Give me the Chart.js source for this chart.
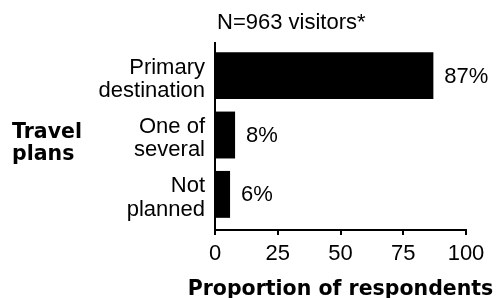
<!DOCTYPE html>
<html>
<head>
<meta charset="utf-8">
<script src="https://cdn.jsdelivr.net/npm/chart.js@4/dist/chart.umd.min.js"></script>
<style>
  body { margin: 0; background: #fff; }
  canvas { display: block; }
</style>
</head>
<body>
<canvas id="myChart" width="500" height="298"></canvas>
<script>
// data
const categories = [['Primary', 'destination'], ['One of', 'several'], ['Not', 'planned']];
const shares = [87, 8, 6];
const xTicks = [0, 25, 50, 75, 100];
const sampleNote = 'N=963 visitors*';
const yTitle = ['Travel', 'plans'];
const xTitle = 'Proportion of respondents';

const plainFont = { family: '"Liberation Sans", Arial, sans-serif', size: 22, lineHeight: 1.05 };
const boldFont = { family: '"DejaVu Sans", Verdana, sans-serif', size: 20.5, weight: 'bold' };
const labelNudge = 0.06;   // category labels sit a touch below the bar centre

// percentages next to the bars, plus the free-standing texts
const labelPlugin = {
  id: 'labels',
  afterDatasetsDraw(chart) {
    const ctx = chart.ctx;
    const area = chart.chartArea;
    ctx.save();
    ctx.fillStyle = '#000';
    ctx.font = plainFont.size + 'px ' + plainFont.family;
    ctx.textAlign = 'left';
    ctx.textBaseline = 'middle';
    chart.getDatasetMeta(0).data.forEach((bar, i) => {
      ctx.fillText(shares[i] + '%', bar.x + 11, bar.y + 1);
    });
    ctx.textBaseline = 'alphabetic';
    ctx.fillText(sampleNote, 217, 29);
    ctx.font = 'bold ' + boldFont.size + 'px ' + boldFont.family;
    ctx.fillText(yTitle[0], 12, 138);
    ctx.fillText(yTitle[1], 12, 160);
    // axis title drawn here so it is not squeezed to the plot width
    ctx.textAlign = 'center';
    ctx.fillText(xTitle, (area.left + area.right) / 2, 295);
    ctx.restore();
  }
};

const ctx = document.getElementById('myChart').getContext('2d');
const myChart = new Chart(ctx, {
  type: 'bar',
  data: {
    datasets: [{
      data: shares.map((v, i) => ({ x: v, y: i })),
      backgroundColor: '#000',
      borderWidth: 0,
      barPercentage: 0.79,
      categoryPercentage: 1
    }]
  },
  options: {
    indexAxis: 'y',
    responsive: false,
    animation: false,
    layout: { padding: { top: 43, right: 34, left: 0, bottom: 0 } },
    plugins: {
      legend: { display: false },
      tooltip: { enabled: false }
    },
    scales: {
      y: {
        type: 'linear',
        reverse: true,
        offset: false,
        min: -0.55,
        max: 2.6,
        afterBuildTicks(scale) { scale.ticks = categories.map((c, i) => ({ value: i + labelNudge })); },
        grid: { display: false, drawTicks: false, offset: false },
        border: { display: true, color: '#000', width: 2 },
        ticks: {
          color: '#000',
          font: plainFont,
          padding: 10,
          callback: (value) => categories[Math.round(value)]
        },
        afterFit(scale) { scale.width = 215; }
      },
      x: {
        min: xTicks[0],
        max: xTicks[xTicks.length - 1],
        afterBuildTicks(scale) { scale.ticks = xTicks.map(v => ({ value: v })); },
        grid: { drawOnChartArea: false, drawTicks: true, tickLength: 5, color: '#000', lineWidth: 2 },
        border: { display: true, color: '#000', width: 2 },
        ticks: { color: '#000', font: plainFont, padding: 7 },
        afterFit(scale) { scale.height = 68; }
      }
    }
  },
  plugins: [labelPlugin]
});
</script>
</body>
</html>
